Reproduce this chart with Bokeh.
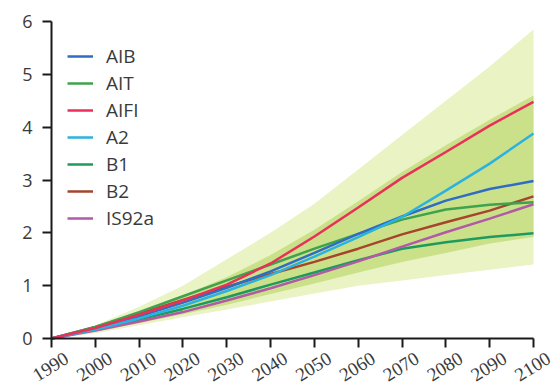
from bokeh.plotting import figure
from bokeh.models import ColumnDataSource, LabelSet, Legend, LegendItem, FixedTicker, Range1d
from bokeh.embed import file_html
from bokeh.resources import INLINE

years = [1990, 2000, 2010, 2020, 2030, 2040, 2050, 2060, 2070, 2080, 2090, 2100]

# Scenario temperature change (deg C relative to 1990)
a1b   = [0, 0.19, 0.42, 0.68, 0.96, 1.27, 1.62, 1.98, 2.31, 2.61, 2.83, 2.98]
a1t   = [0, 0.22, 0.50, 0.80, 1.10, 1.40, 1.70, 1.98, 2.25, 2.44, 2.53, 2.58]
a1fi  = [0, 0.20, 0.45, 0.72, 1.02, 1.42, 1.93, 2.48, 3.04, 3.53, 4.03, 4.48]
a2    = [0, 0.17, 0.38, 0.62, 0.90, 1.20, 1.55, 1.92, 2.30, 2.80, 3.31, 3.88]
b1    = [0, 0.17, 0.36, 0.56, 0.78, 1.02, 1.25, 1.48, 1.70, 1.82, 1.92, 1.99]
b2    = [0, 0.22, 0.47, 0.73, 0.98, 1.22, 1.45, 1.70, 1.97, 2.20, 2.42, 2.69]
is92a = [0, 0.15, 0.32, 0.50, 0.72, 0.95, 1.20, 1.46, 1.74, 2.01, 2.27, 2.54]

# Envelopes
outer_top = [0, 0.25, 0.60, 1.00, 1.50, 2.00, 2.55, 3.20, 3.85, 4.50, 5.15, 5.85]
outer_bot = [0, 0.10, 0.25, 0.40, 0.55, 0.70, 0.85, 1.00, 1.10, 1.20, 1.30, 1.40]
inner_top = [0, 0.22, 0.50, 0.82, 1.16, 1.58, 2.06, 2.60, 3.15, 3.66, 4.14, 4.60]
inner_bot = [0, 0.13, 0.29, 0.46, 0.64, 0.84, 1.04, 1.25, 1.45, 1.62, 1.80, 1.92]

x_ticks = [1990, 2000, 2010, 2020, 2030, 2040, 2050, 2060, 2070, 2080, 2090, 2100]
x_tick_labels = [str(t) for t in x_ticks]
y_ticks = [0, 1, 2, 3, 4, 5, 6]

series = [
    ("AIB", a1b, "#2f6cc4"),
    ("AIT", a1t, "#3ea24e"),
    ("AIFI", a1fi, "#e8305a"),
    ("A2", a2, "#2cb2e0"),
    ("B1", b1, "#1d9a5e"),
    ("B2", b2, "#a5462c"),
    ("IS92a", is92a, "#b25aa8"),
]

FONT = "Open Sans"
TXT = "#3a3a3a"

W, H = 559, 391
# layout: axis origin (1990, 0) at pixel (51, 338); (2100, 6) at pixel (533, 21)
px_per_year = (533 - 51) / 110.0
px_per_unit = (338 - 21) / 6.0
x0 = 1990 - 51 / px_per_year
x1 = 1990 + (W - 51) / px_per_year
y0 = 0 - (H - 338) / px_per_unit
y1 = 6 + 21 / px_per_unit

p = figure(width=W, height=H, output_backend="svg", toolbar_location=None,
           x_range=Range1d(x0, x1), y_range=Range1d(y0, y1),
           min_border=0, min_border_left=0, min_border_right=0,
           min_border_top=0, min_border_bottom=0)
p.outline_line_color = None
p.grid.visible = False
p.background_fill_color = "white"
p.border_fill_color = "white"

p.varea(x=years, y1=outer_bot, y2=outer_top, fill_color="#e9f3c4", fill_alpha=1.0)
p.varea(x=years, y1=inner_bot, y2=inner_top, fill_color="#cbe189", fill_alpha=1.0)

renderers = {}
draw_order = ["B1", "IS92a", "B2", "AIT", "AIB", "A2", "AIFI"]
lookup = {n: (v, c) for n, v, c in series}
for name in draw_order:
    vals, col = lookup[name]
    renderers[name] = p.line(years, vals, line_color=col, line_width=2.5)

# axes pinned to the data origin
p.xaxis.fixed_location = 0
p.yaxis.fixed_location = 1990
p.xaxis.bounds = (1990, 2100)
p.yaxis.bounds = (0, 6)
for ax in (p.xaxis, p.yaxis):
    ax.axis_line_color = "#1a1a1a"
    ax.axis_line_width = 2
    ax.major_tick_line_color = "#1a1a1a"
    ax.major_tick_line_width = 2
    ax.major_tick_out = 9
    ax.major_tick_in = 0
    ax.minor_tick_line_color = None

p.xaxis.ticker = FixedTicker(ticks=x_ticks)
p.yaxis.ticker = FixedTicker(ticks=y_ticks)
p.xaxis.major_label_text_color = None
p.yaxis.major_label_text_font = FONT
p.yaxis.major_label_text_font_size = "18px"
p.yaxis.major_label_text_color = TXT
p.yaxis.major_label_standoff = 10

src = ColumnDataSource(dict(x=x_ticks, y=[0] * len(x_ticks), t=x_tick_labels))
labels = LabelSet(x="x", y="y", text="t", source=src, angle=32, angle_units="deg",
                  text_align="center", text_baseline="middle", x_offset=-1, y_offset=-28,
                  text_font=FONT, text_font_size="19px", text_color=TXT)
p.add_layout(labels)

legend = Legend(items=[LegendItem(label=n, renderers=[renderers[n]]) for n, _, _ in series],
                location=(67, 160), margin=0, padding=0, spacing=1,
                label_text_font=FONT, label_text_font_size="19px", label_text_color=TXT,
                label_standoff=13, glyph_width=26, glyph_height=20, label_height=20,
                background_fill_alpha=0, border_line_alpha=0)
p.add_layout(legend)

open("out.html", "w").write(file_html(p, INLINE))
